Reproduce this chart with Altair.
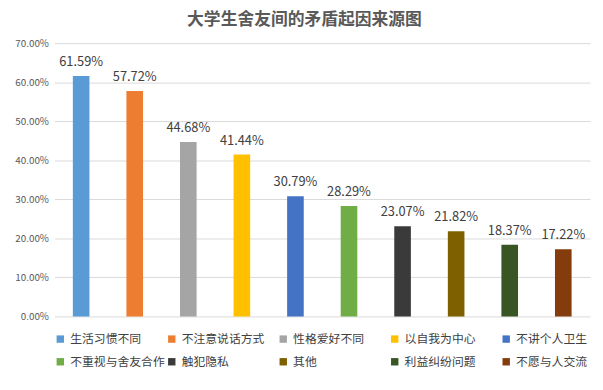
import altair as alt
import pandas as pd

categories = ["生活习惯不同", "不注意说话方式", "性格爱好不同", "以自我为中心", "不讲个人卫生",
              "不重视与舍友合作", "触犯隐私", "其他", "利益纠纷问题", "不愿与人交流"]
values = [61.59, 57.72, 44.68, 41.44, 30.79, 28.29, 23.07, 21.82, 18.37, 17.22]
colors = ["#5B9BD5", "#ED7D31", "#A5A5A5", "#FFC000", "#4472C4",
          "#70AD47", "#3A3A3A", "#7F6000", "#375623", "#843C0C"]
y_ticks = [0, 0.1, 0.2, 0.3, 0.4, 0.5, 0.6, 0.7]

df = pd.DataFrame({
    "category": categories,
    "value": [v / 100 for v in values],
    "label": [f"{v:.2f}%" for v in values],
})

FONT = "Noto Sans CJK SC"

x = alt.X("category:N", sort=categories, axis=None,
          scale=alt.Scale(paddingInner=0.69, paddingOuter=0.345))
y = alt.Y("value:Q", scale=alt.Scale(domain=[0, 0.7], nice=False, zero=True),
          axis=alt.Axis(values=y_ticks, format=".2%", title=None, domain=False, ticks=False,
                        labelPadding=6, labelFontSize=10, labelColor="#595959",
                        labelOverlap=False, labelFont=FONT, gridColor="#d9d9d9"))

bars = alt.Chart(df).mark_bar().encode(
    x=x,
    y=y,
    color=alt.Color("category:N", sort=categories,
                    scale=alt.Scale(domain=categories, range=colors),
                    legend=alt.Legend(title=None, orient="none", legendX=0, legendY=294,
                                      direction="horizontal", columns=5, gridAlign="all",
                                      columnPadding=0, rowPadding=11, symbolType="square",
                                      symbolSize=56, labelFontSize=12, labelFont=FONT,
                                      labelColor="#404040", labelOffset=4, labelLimit=200)),
)

text = alt.Chart(df).mark_text(dy=-14, fontSize=13, font=FONT, color="#404040").encode(
    x=x,
    y=y,
    text="label:N",
)

chart = (bars + text).properties(
    width=543, height=277,
    padding={"left": 47, "top": 33, "right": 5, "bottom": 72},
    autosize=alt.AutoSizeParams(type="none"),
    title=alt.TitleParams("大学生舍友间的矛盾起因来源图", fontSize=17, font=FONT, fontWeight="bold",
                          color="#595959", anchor="middle", dx=-18, offset=12, dy=3),
).configure_view(stroke=None)

chart.save("out.html", embed_options={"renderer": "svg", "actions": False})
